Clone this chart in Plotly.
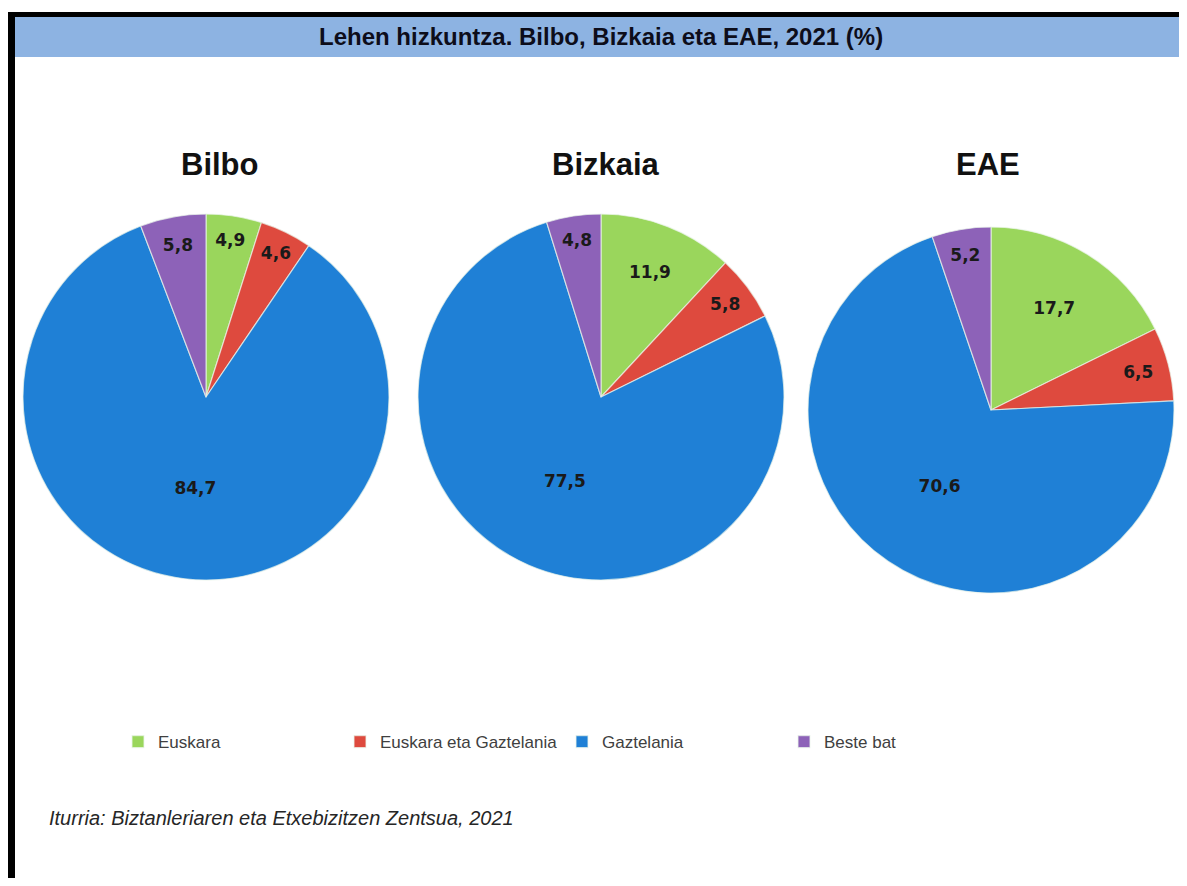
import plotly.graph_objects as go

W, H = 1187, 886
FW, FH = W - 16, H - 16  # page body has an 8px margin


def px(sx):
    return (sx - 8) / FW


def py(sy):
    return 1 - (sy - 8) / FH


categories = ["Euskara", "Euskara eta Gaztelania", "Gaztelania", "Beste bat"]
regions = ["Bilbo", "Bizkaia", "EAE"]
bilbo = [4.9, 4.6, 84.7, 5.8]
bizkaia = [11.9, 5.8, 77.5, 4.8]
eae = [17.7, 6.5, 70.6, 5.2]
colors = ["#9AD65C", "#DE4A3E", "#1F80D6", "#8D62B8"]
title_text = "Lehen hizkuntza. Bilbo, Bizkaia eta EAE, 2021 (%)"
source_text = "Iturria: Biztanleriaren eta Etxebizitzen Zentsua, 2021"

series = [bilbo, bizkaia, eae]
# pie centres / radius in screen pixels (layout only)
centers = [(206, 397), (601, 397), (991, 410)]
R = 183

fig = go.Figure()
for i, (vals, (cx, cy)) in enumerate(zip(series, centers)):
    fig.add_trace(go.Pie(
        labels=categories,
        values=vals,
        sort=False,
        direction="clockwise",
        rotation=0,
        text=[f"{v:.1f}".replace(".", ",") for v in vals],
        textinfo="text",
        textposition="inside",
        insidetextorientation="horizontal",
        textfont=dict(family="DejaVu Sans", size=17, color="#1a1a1a", weight="bold"),
        marker=dict(colors=colors, line=dict(color="rgba(235,245,235,0.7)", width=1.2)),
        domain=dict(x=[px(cx - R), px(cx + R)], y=[py(cy + R), py(cy - R)]),
        showlegend=(i == 0),
        hoverinfo="label+value",
    ))

annotations = []
sub_x = [220, 606, 988]
for name, sx in zip(regions, sub_x):
    annotations.append(dict(text=f"<b>{name}</b>", x=px(sx), y=py(164), xref="paper", yref="paper",
                            xanchor="center", yanchor="middle", showarrow=False,
                            font=dict(family="Arial", size=31, color="#111111")))
annotations.append(dict(text=f"<b>{title_text}</b>", x=px(601), y=py(36), xref="paper", yref="paper",
                        xanchor="center", yanchor="middle", showarrow=False,
                        font=dict(family="Arial", size=24, color="#0d0d1a")))
annotations.append(dict(text=f"<i>{source_text}</i>", x=px(47), y=py(818), xref="paper", yref="paper",
                        xanchor="left", yanchor="middle", showarrow=False,
                        font=dict(family="Arial", size=20, color="#262626")))

shapes = [
    # top black border
    dict(type="rect", xref="paper", yref="paper", x0=px(8), x1=1, y0=py(17), y1=py(12),
         fillcolor="black", line=dict(width=0), layer="below"),
    # left black border
    dict(type="rect", xref="paper", yref="paper", x0=px(8), x1=px(15), y0=0, y1=py(12),
         fillcolor="black", line=dict(width=0), layer="below"),
    # title bar
    dict(type="rect", xref="paper", yref="paper", x0=px(15), x1=1, y0=py(57), y1=py(17),
         fillcolor="#8DB3E2", line=dict(width=0), layer="below"),
]

fig.update_layout(
    width=FW, height=FH,
    margin=dict(l=0, r=0, t=0, b=0),
    paper_bgcolor="white",
    plot_bgcolor="white",
    annotations=annotations,
    shapes=shapes,
    legend=dict(orientation="h", x=px(118), y=py(742), xanchor="left", yanchor="middle",
                font=dict(family="Arial", size=17, color="#404040"),
                entrywidth=177, entrywidthmode="pixels", itemclick=False, itemdoubleclick=False),
)

fig.write_html("out.html")
